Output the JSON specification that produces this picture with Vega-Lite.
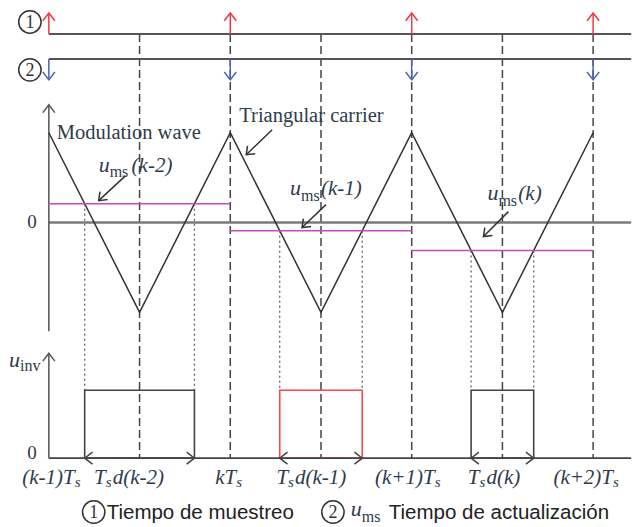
{
  "$schema": "https://vega.github.io/schema/vega-lite/v6.json",
  "width": 633,
  "height": 527,
  "padding": 0,
  "autosize": {"type": "fit", "contains": "padding"},
  "background": "white",
  "config": {"view": {"stroke": null}},
  "datasets": {
    "carrier": [{"x":0,"y":1},{"x":0.5,"y":-1},{"x":1,"y":1},{"x":1.5,"y":-1},{"x":2,"y":1},{"x":2.5,"y":-1},{"x":3,"y":1}],
    "timelines": [{"x":0,"x2":3.21,"y":2.1},{"x":0,"x2":3.21,"y":1.8222}],
    "zero": [{"x":0,"x2":3.21,"y":0}],
    "baseline": [{"x":0,"x2":3.21,"y":-2.6222}],
    "axes": [{"x":0,"y":1.3111,"y2":-1.2111},{"x":0,"y":-1.4556,"y2":-2.6222}],
    "axisHeads": [{"x":0,"y":1.3111},{"x":0,"y":-1.4556}],
    "dashed": [{"x":0.5,"y":2.1,"y2":-2.6222},{"x":1,"y":2.1,"y2":-2.6222},{"x":1.5,"y":2.1,"y2":-2.6222},{"x":2,"y":2.1,"y2":-2.6222},{"x":2.5,"y":2.1,"y2":-2.6222},{"x":3,"y":2.1,"y2":-2.6222}],
    "dotted": [{"x":0.1975,"y":0.21,"y2":-1.8667},{"x":0.8025,"y":0.21,"y2":-1.8667},{"x":1.2725,"y":-0.09,"y2":-1.8667},{"x":1.7275,"y":-0.09,"y2":-1.8667},{"x":2.3275,"y":-0.31,"y2":-1.8667},{"x":2.6725,"y":-0.31,"y2":-1.8667}],
    "ums": [{"x":0,"x2":1,"y":0.21},{"x":1,"x2":2,"y":-0.09},{"x":2,"x2":3,"y":-0.31}],
    "boxes": [{"x":0.1975,"x2":0.8025,"y":-1.8667,"y2":-2.6222,"period":"k-2"},{"x":1.2725,"x2":1.7275,"y":-1.8667,"y2":-2.6222,"period":"k-1"},{"x":2.3275,"x2":2.6725,"y":-1.8667,"y2":-2.6222,"period":"k"}],
    "sampleShafts": [{"x":0,"y":2.1,"y2":2.3333},{"x":1,"y":2.1,"y2":2.3333},{"x":2,"y":2.1,"y2":2.3333},{"x":3,"y":2.1,"y2":2.3333}],
    "sampleHeads": [{"x":0,"y":2.3333},{"x":1,"y":2.3333},{"x":2,"y":2.3333},{"x":3,"y":2.3333}],
    "updateShafts": [{"x":0,"y":1.8222,"y2":1.5889},{"x":1,"y":1.8222,"y2":1.5889},{"x":2,"y":1.8222,"y2":1.5889},{"x":3,"y":1.8222,"y2":1.5889}],
    "updateHeads": [{"x":0,"y":1.5889},{"x":1,"y":1.5889},{"x":2,"y":1.5889},{"x":3,"y":1.5889}],
    "leftHeads": [{"x":0.1975,"y":-2.6222},{"x":1.2725,"y":-2.6222},{"x":2.3275,"y":-2.6222}],
    "rightHeads": [{"x":0.8025,"y":-2.6222},{"x":1.7275,"y":-2.6222},{"x":2.6725,"y":-2.6222}],
    "pointers": [{"x":0.4231,"y":0.5222,"x2":0.2747,"y2":0.2444},{"x":1.2308,"y":1.0333,"x2":1.0879,"y2":0.7556},{"x":1.5275,"y":0.2,"x2":1.3956,"y2":-0.0556},{"x":2.533,"y":0.1222,"x2":2.3956,"y2":-0.1556}],
    "pointerHeads": [{"x":0.2747,"y":0.2444},{"x":1.0879,"y":0.7556},{"x":1.3956,"y":-0.0556},{"x":2.3956,"y":-0.1556}],
    "circles": [{"x":-0.1044,"y":2.2333,"label":"1"},{"x":-0.1044,"y":1.7,"label":"2"},{"x":0.2473,"y":-3.2222,"label":"1"},{"x":1.5659,"y":-3.2222,"label":"2"}],
    "titles": [{"x":0.044,"y":0.9333,"label":"Modulation wave"},{"x":1.0495,"y":1.1222,"label":"Triangular carrier"}],
    "zeros": [{"x":-0.0934,"y":-0.0556,"label":"0"},{"x":-0.0934,"y":-2.6333,"label":"0"}],
    "uRight": [{"x":0.3352,"y":0.5667,"label":"u"},{"x":1.3901,"y":0.3111,"label":"u"},{"x":2.478,"y":0.2556,"label":"u"},{"x":-0.1593,"y":-1.6111,"label":"u"},{"x":1.7253,"y":-3.2667,"label":"u"}],
    "uSubs": [{"x":0.3352,"y":0.5111,"label":"ms"},{"x":1.3901,"y":0.2444,"label":"ms"},{"x":2.478,"y":0.1889,"label":"ms"},{"x":-0.1593,"y":-1.6556,"label":"inv"},{"x":1.7253,"y":-3.3333,"label":"ms"}],
    "uArgs": [{"x":0.456,"y":0.5667,"label":"(k-2)"},{"x":1.5,"y":0.3111,"label":"(k-1)"},{"x":2.5879,"y":0.2556,"label":"(k)"}],
    "xlabRight": [{"x":0.1429,"y":-2.9111,"label":"(k-1)T"},{"x":0.3132,"y":-2.9111,"label":"T"},{"x":1.033,"y":-2.9111,"label":"kT"},{"x":1.3187,"y":-2.9111,"label":"T"},{"x":2.1264,"y":-2.9111,"label":"(k+1)T"},{"x":2.3736,"y":-2.9111,"label":"T"},{"x":3.1099,"y":-2.9111,"label":"(k+2)T"}],
    "xlabSubs": [{"x":0.1429,"y":-2.9444,"label":"s"},{"x":0.3132,"y":-2.9444,"label":"s"},{"x":1.033,"y":-2.9444,"label":"s"},{"x":1.3187,"y":-2.9444,"label":"s"},{"x":2.1264,"y":-2.9444,"label":"s"},{"x":2.3736,"y":-2.9444,"label":"s"},{"x":3.1099,"y":-2.9444,"label":"s"}],
    "xlabLeft": [{"x":0.3516,"y":-2.9111,"label":"d(k-2)"},{"x":1.3571,"y":-2.9111,"label":"d(k-1)"},{"x":2.4121,"y":-2.9111,"label":"d(k)"}],
    "legendText": [{"x":0.3187,"y":-3.3,"label":"Tiempo de muestreo"},{"x":1.8736,"y":-3.3,"label":"Tiempo de actualización"}]
  },
  "encoding": {
    "x": {"field": "x", "type": "quantitative", "axis": null, "scale": {"domain": [-0.26923, 3.20879], "nice": false, "zero": false}},
    "y": {"field": "y", "type": "quantitative", "axis": null, "scale": {"domain": [-3.37778, 2.47778], "nice": false, "zero": false}}
  },
  "layer": [
    {"data": {"name": "dashed"}, "mark": {"type": "rule", "color": "#444444", "strokeWidth": 1.5, "strokeDash": [8, 4]}, "encoding": {"y2": {"field": "y2"}}},
    {"data": {"name": "dotted"}, "mark": {"type": "rule", "color": "#666666", "strokeWidth": 1.3, "strokeDash": [2, 3]}, "encoding": {"y2": {"field": "y2"}}},
    {"data": {"name": "zero"}, "mark": {"type": "rule", "color": "#7a7a7a", "strokeWidth": 2.5}, "encoding": {"x2": {"field": "x2"}}},
    {"data": {"name": "timelines"}, "mark": {"type": "rule", "color": "#555555", "strokeWidth": 2}, "encoding": {"x2": {"field": "x2"}}},
    {"data": {"name": "boxes"}, "mark": {"type": "rect", "fill": "white", "fillOpacity": 0, "strokeWidth": 1.6}, "encoding": {"x2": {"field": "x2"}, "y2": {"field": "y2"}, "stroke": {"field": "period", "type": "nominal", "legend": null, "scale": {"domain": ["k-2", "k-1", "k"], "range": ["#444444", "#f04a50", "#444444"]}}}},
    {"data": {"name": "baseline"}, "mark": {"type": "rule", "color": "#444444", "strokeWidth": 1.8}, "encoding": {"x2": {"field": "x2"}}},
    {"data": {"name": "axes"}, "mark": {"type": "rule", "color": "#555555", "strokeWidth": 1.5}, "encoding": {"y2": {"field": "y2"}}},
    {"data": {"name": "carrier"}, "mark": {"type": "line", "color": "#333333", "strokeWidth": 1.5}, "encoding": {}},
    {"data": {"name": "ums"}, "mark": {"type": "rule", "color": "#c848c8", "strokeWidth": 1.5}, "encoding": {"x2": {"field": "x2"}}},
    {"data": {"name": "sampleShafts"}, "mark": {"type": "rule", "color": "#ec3a42", "strokeWidth": 1.5}, "encoding": {"y2": {"field": "y2"}}},
    {"data": {"name": "sampleHeads"}, "mark": {"type": "point", "shape": "M-1,1.3L0,0L1,1.3", "filled": false, "size": 144, "strokeWidth": 1.5, "color": "#ec3a42", "opacity": 1, "angle": 0}, "encoding": {}},
    {"data": {"name": "updateShafts"}, "mark": {"type": "rule", "color": "#4a63b8", "strokeWidth": 1.5}, "encoding": {"y2": {"field": "y2"}}},
    {"data": {"name": "updateHeads"}, "mark": {"type": "point", "shape": "M-1,1.3L0,0L1,1.3", "filled": false, "size": 144, "strokeWidth": 1.5, "color": "#4a63b8", "opacity": 1, "angle": 180}, "encoding": {}},
    {"data": {"name": "axisHeads"}, "mark": {"type": "point", "shape": "M-1,1.3L0,0L1,1.3", "filled": false, "size": 144, "strokeWidth": 1.5, "color": "#555555", "opacity": 1, "angle": 0}, "encoding": {}},
    {"data": {"name": "leftHeads"}, "mark": {"type": "point", "shape": "M-1,1.3L0,0L1,1.3", "filled": false, "size": 144, "strokeWidth": 1.5, "color": "#444444", "opacity": 1, "angle": 270}, "encoding": {}},
    {"data": {"name": "rightHeads"}, "mark": {"type": "point", "shape": "M-1,1.3L0,0L1,1.3", "filled": false, "size": 144, "strokeWidth": 1.5, "color": "#444444", "opacity": 1, "angle": 90}, "encoding": {}},
    {"data": {"name": "pointers"}, "mark": {"type": "rule", "color": "#333333", "strokeWidth": 1.5}, "encoding": {"x2": {"field": "x2"}, "y2": {"field": "y2"}}},
    {"data": {"name": "pointerHeads"}, "mark": {"type": "point", "shape": "M-1,1.3L0,0L1,1.3", "filled": false, "size": 121, "strokeWidth": 1.5, "color": "#333333", "opacity": 1, "angle": 226}, "encoding": {}},
    {"data": {"name": "circles"}, "mark": {"type": "point", "shape": "circle", "filled": false, "size": 500, "strokeWidth": 1.5, "color": "#333333", "opacity": 1}, "encoding": {}},
    {"data": {"name": "circles"}, "mark": {"type": "text", "font": "Liberation Serif", "fontSize": 18, "align": "center", "baseline": "middle", "dy": 1, "color": "#333333"}, "encoding": {"text": {"field": "label"}}},
    {"data": {"name": "titles"}, "mark": {"type": "text", "font": "Liberation Serif", "fontSize": 20.5, "align": "left", "baseline": "alphabetic", "color": "#2f3b4c"}, "encoding": {"text": {"field": "label"}}},
    {"data": {"name": "zeros"}, "mark": {"type": "text", "font": "Liberation Serif", "fontSize": 19, "align": "center", "baseline": "alphabetic", "color": "#2f3b4c"}, "encoding": {"text": {"field": "label"}}},
    {"data": {"name": "uRight"}, "mark": {"type": "text", "font": "Liberation Serif", "fontStyle": "italic", "fontSize": 22, "align": "right", "baseline": "alphabetic", "color": "#2f3b4c"}, "encoding": {"text": {"field": "label"}}},
    {"data": {"name": "uSubs"}, "mark": {"type": "text", "font": "Liberation Serif", "fontSize": 16, "align": "left", "baseline": "alphabetic", "color": "#2f3b4c"}, "encoding": {"text": {"field": "label"}}},
    {"data": {"name": "uArgs"}, "mark": {"type": "text", "font": "Liberation Serif", "fontStyle": "italic", "fontSize": 21, "align": "left", "baseline": "alphabetic", "color": "#2f3b4c"}, "encoding": {"text": {"field": "label"}}},
    {"data": {"name": "xlabRight"}, "mark": {"type": "text", "font": "Liberation Serif", "fontStyle": "italic", "fontSize": 21, "align": "right", "baseline": "alphabetic", "color": "#2f3b4c"}, "encoding": {"text": {"field": "label"}}},
    {"data": {"name": "xlabSubs"}, "mark": {"type": "text", "font": "Liberation Serif", "fontStyle": "italic", "fontSize": 15, "align": "left", "baseline": "alphabetic", "color": "#2f3b4c"}, "encoding": {"text": {"field": "label"}}},
    {"data": {"name": "xlabLeft"}, "mark": {"type": "text", "font": "Liberation Serif", "fontStyle": "italic", "fontSize": 21, "align": "left", "baseline": "alphabetic", "color": "#2f3b4c"}, "encoding": {"text": {"field": "label"}}},
    {"data": {"name": "legendText"}, "mark": {"type": "text", "font": "Liberation Sans", "fontSize": 20.5, "align": "left", "baseline": "alphabetic", "color": "#222222"}, "encoding": {"text": {"field": "label"}}}
  ]
}
